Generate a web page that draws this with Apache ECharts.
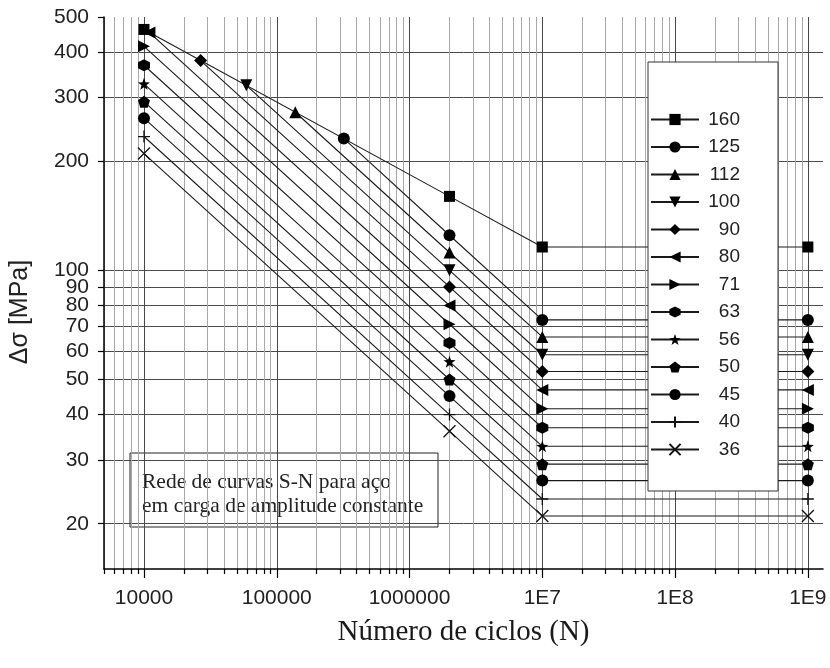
<!DOCTYPE html>
<html>
<head>
<meta charset="utf-8">
<script src="https://cdn.jsdelivr.net/npm/echarts@6/dist/echarts.min.js"></script>
<style>
html,body{margin:0;padding:0;background:#fff;}
#chart{width:830px;height:668px;}
</style>
</head>
<body>
<div id="chart"></div>
<script>
// ---- data ----
const categories   = ['160','125','112','100','90','80','71','63','56','50','45','40','36'];
const startCycles  = [10000, 320000, 138000, 59000, 26700, 11000, 10000, 10000, 10000, 10000, 10000, 10000, 10000];
const startStress  = [462, 231, 273, 324, 379, 453, 415, 368, 327, 292, 263, 234, 210];
const kneeCycles   = 2000000;
const kneeStress   = [160, 125, 112, 100, 90, 80, 71, 63, 56, 50, 45, 40, 36];
const cutoffCycles = 10000000;
const cutoffStress = [116, 73, 65.5, 58.5, 52.6, 46.8, 41.5, 36.8, 32.7, 29.2, 26.3, 23.4, 21.0];
const endCycles    = 1000000000;

const xTickValues = [10000, 100000, 1000000, 10000000, 100000000, 1000000000];
const xTickLabels = ['10000', '100000', '1000000', '1E7', '1E8', '1E9'];
const xMinorValues = [5000, 6000, 7000, 8000, 9000,
  20000, 30000, 40000, 50000, 60000, 70000, 80000, 90000,
  200000, 300000, 400000, 500000, 600000, 700000, 800000, 900000,
  2000000, 3000000, 4000000, 5000000, 6000000, 7000000, 8000000, 9000000,
  20000000, 30000000, 40000000, 50000000, 60000000, 70000000, 80000000, 90000000,
  200000000, 300000000, 400000000, 500000000, 600000000, 700000000, 800000000, 900000000];
const yTickValues = [20, 30, 40, 50, 60, 70, 80, 90, 100, 200, 300, 400, 500];
const yTickLabels = ['20', '30', '40', '50', '60', '70', '80', '90', '100', '200', '300', '400', '500'];

// ---- marker shapes ----
const symbols = [
  'rect',
  'circle',
  'triangle',
  'path://M0,0L10,0L5,9Z',
  'diamond',
  'path://M9,0L0,5L9,10Z',
  'path://M0,0L9,5L0,10Z',
  'path://M5,0L9.33,2.5L9.33,7.5L5,10L0.67,7.5L0.67,2.5Z',
  'path://M5,0L6.176,3.382L9.755,3.455L6.902,5.618L7.939,9.045L5,7L2.061,9.045L3.098,5.618L0.245,3.455L3.824,3.382Z',
  'path://M5,0L9.755,3.455L7.939,9.045L2.061,9.045L0.245,3.455Z',
  'circle',
  'path://M5,0L5,10M0,5L10,5',
  'path://M0,0L10,10M10,0L0,10'
];
const stroked = [false,false,false,false,false,false,false,false,false,false,false,true,true];
const sizes = [11,12,12,12,13,12,12,12,12,12,12,12,12];

const SANS = '"Liberation Sans", Arial, sans-serif';
const SERIF = '"Liberation Serif", "Times New Roman", serif';

const series = categories.map((name, i) => ({
  name: name,
  type: 'line',
  data: [
    [startCycles[i], startStress[i]],
    [kneeCycles, kneeStress[i]],
    [cutoffCycles, cutoffStress[i]],
    [endCycles, cutoffStress[i]]
  ],
  symbol: symbols[i],
  symbolSize: sizes[i],
  showAllSymbol: true,
  lineStyle: { color: '#1a1a1a', width: 1.1 },
  itemStyle: stroked[i]
    ? { color: 'rgba(0,0,0,0)', borderColor: '#111', borderWidth: 1.3 }
    : { color: '#000' },
  emphasis: { disabled: true },
  z: 3
}));

const chart = echarts.init(document.getElementById('chart'), null, { renderer: 'canvas' });
chart.setOption({
  animation: false,
  backgroundColor: '#fff',
  grid: { left: 102, top: 17, right: 7, bottom: 99, containLabel: false },
  xAxis: [
    {
      type: 'log', logBase: 10, min: 5000, max: 1300000000, position: 'bottom',
      name: 'Número de ciclos (N)', nameLocation: 'middle', nameGap: 49,
      nameTextStyle: { fontFamily: SERIF, fontSize: 29, color: '#1a1a1a' },
      axisLine: { show: true, lineStyle: { color: '#000', width: 1.5 } },
      axisTick: { show: true, length: 9, customValues: xTickValues, lineStyle: { color: '#000', width: 1.2 } },
      axisLabel: {
        customValues: xTickValues, margin: 19, fontFamily: SANS, fontSize: 21, color: '#222',
        formatter: v => { const k = xTickValues.findIndex(t => Math.abs(t - v) / t < 1e-6); return k >= 0 ? xTickLabels[k] : ''; }
      },
      splitLine: { show: true, lineStyle: { color: '#4a4a4a', width: 1 } }
    },
    {
      type: 'log', logBase: 10, min: 5000, max: 1300000000, position: 'bottom',
      axisLine: { show: false },
      axisTick: { show: true, length: 5, customValues: xMinorValues, lineStyle: { color: '#000', width: 1.2 } },
      axisLabel: { show: false },
      splitLine: { show: true, lineStyle: { color: '#a8a8a8', width: 1 } }
    }
  ],
  yAxis: {
    type: 'log', logBase: 10, min: 15, max: 500,
    name: 'Δσ [MPa]', nameLocation: 'middle', nameGap: 71, nameRotate: 90,
    nameTextStyle: { fontFamily: SANS, fontSize: 25, color: '#222', padding: [0, 38, 0, 0] },
    axisLine: { show: true, lineStyle: { color: '#000', width: 1.5 } },
    axisTick: { show: true, length: 6, customValues: yTickValues, lineStyle: { color: '#000', width: 1.2 } },
    axisLabel: {
      customValues: yTickValues, margin: 15, fontFamily: SANS, fontSize: 21, color: '#222',
      formatter: v => { const k = yTickValues.findIndex(t => Math.abs(t - v) / t < 1e-6); return k >= 0 ? yTickLabels[k] : ''; }
    },
    splitLine: { show: true, showMaxLine: false, lineStyle: { color: '#4a4a4a', width: 1 } }
  },
  legend: {
    data: categories,
    orient: 'vertical', left: 648, top: 62,
    padding: [48, 38, 32, 2],
    itemWidth: 48, itemHeight: 14, itemGap: 8.5, itemTextGap: 5,
    backgroundColor: '#fff', borderColor: '#333', borderWidth: 1, borderRadius: 0,
    selectedMode: false,
    formatter: name => '{n|' + name + '}',
    textStyle: {
      fontFamily: SANS, fontSize: 19, color: '#222',
      rich: { n: { width: 36, align: 'right', fontFamily: SANS, fontSize: 19, color: '#222' } }
    }
  },
  graphic: [
    {
      type: 'group', x: 130, y: 453, z: 100,
      children: [
        { type: 'rect', shape: { x: 0, y: 0, width: 308, height: 74 }, style: { fill: '#fff', stroke: '#222', lineWidth: 1 } },
        { type: 'text', x: 12, y: 17, style: { text: 'Rede de curvas S-N para aço\nem carga de amplitude constante', font: '21.5px ' + SERIF, lineHeight: 24, fill: '#222' } }
      ]
    }
  ],
  series: series
});
</script>
</body>
</html>
